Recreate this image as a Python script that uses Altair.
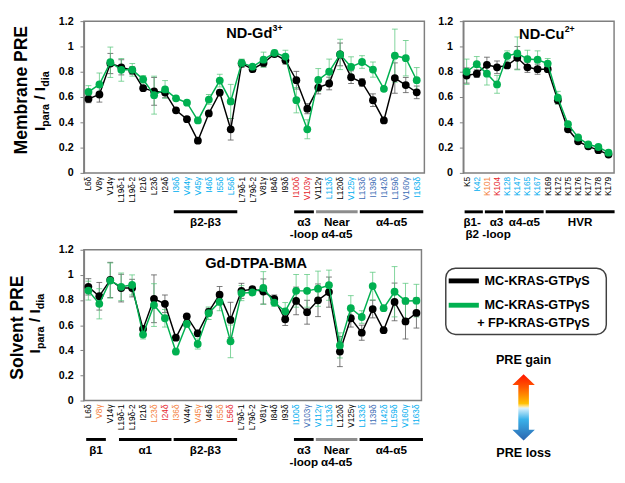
import altair as alt
import pandas as pd

FONT = "Liberation Sans"
K, LB, DB, RD, OR = "#000000", "#00AEEF", "#3D6DB5", "#E5242A", "#F4803A"
GRAYBAR = "#8C8C8C"
GREEN = "#00B050"

# ---------------- ND-Gd3+ (membrane PRE, methyl) ----------------
gd_labels = ["L6δ", "V8γ", "V14γ", "L19δ-1", "L19δ-2", "I21δ", "L23δ", "I24δ", "I36δ", "V44γ",
             "V45γ", "I46δ", "I55δ", "L56δ", "L79δ-1", "L79δ-2", "V81γ", "I84δ", "I93δ", "I100δ",
             "V103γ", "V112γ", "L113δ", "L120δ", "V125γ", "L133δ", "I139δ", "I142δ", "L159δ", "V160γ", "I163δ"]
gd_colors = [K] * 8 + [LB] * 6 + [K] * 5 + [RD, RD, K, LB, K, LB] + [DB] * 5 + [LB]
gd_black = [0.585, 0.62, 0.865, 0.835, 0.81, 0.67, 0.645, 0.635, 0.495, 0.425,
            0.255, 0.47, 0.635, 0.345, 0.865, 0.82, 0.87, 0.94, 0.89, 0.733,
            0.508, 0.675, 0.707, 0.937, 0.757, 0.715, 0.575, 0.415, 0.75, 0.695, 0.637]
gd_black_err = [0.03, 0.06, 0.08, 0.06, 0.03, 0.015, 0.11, 0.04, 0.01, 0.01,
                0.02, 0.02, 0.02, 0.085, 0.03, 0.01, 0.03, 0.02, 0.03, 0.07,
                0.04, 0.05, 0.05, 0.09, 0.05, 0.03, 0.05, 0.01, 0.12, 0.06, 0.05]
gd_green = [0.64, 0.70, 0.875, 0.815, 0.815, 0.74, 0.615, 0.66, 0.59, 0.555,
            0.415, 0.58, 0.73, 0.565, 0.87, 0.84, 0.895, 0.95, 0.92, 0.575,
            0.345, 0.735, 0.80, 0.937, 0.838, 0.877, 0.817, 0.665, 0.927, 0.907, 0.733]
gd_green_err = [0.05, 0.09, 0.12, 0.09, 0.05, 0.03, 0.15, 0.07, 0.01, 0.01,
                0.02, 0.04, 0.05, 0.135, 0.03, 0.01, 0.06, 0.02, 0.05, 0.10,
                0.075, 0.09, 0.10, 0.12, 0.08, 0.05, 0.06, 0.01, 0.21, 0.14, 0.10]
gd_regions = [("β2-β3", 8, 13, K, 0.2), ("α3\n-loop", 19, 20, K, 0.2),
              ("Near\nα4-α5", 21, 24, GRAYBAR, 0.2), ("α4-α5", 25, 30, K, 0.2)]

# ---------------- ND-Cu2+ (membrane PRE, lysine) ----------------
cu_labels = ["K5", "K42", "K101", "K104", "K128", "K147", "K165", "K167",
             "K169", "K172", "K175", "K176", "K177", "K178", "K179"]
cu_colors = [K, LB, OR, RD, LB, LB, LB, LB] + [K] * 7
cu_black = [0.77, 0.785, 0.855, 0.835, 0.85, 0.91, 0.835, 0.82, 0.82, 0.575, 0.345, 0.25, 0.21, 0.18, 0.145]
cu_black_err = [0.06, 0.03, 0.06, 0.05, 0.02, 0.09, 0.04, 0.04, 0.02, 0.03, 0.01, 0.01, 0.01, 0.01, 0.01]
cu_green = [0.80, 0.86, 0.785, 0.70, 0.925, 0.945, 0.90, 0.895, 0.865, 0.595, 0.385, 0.28, 0.225, 0.205, 0.16]
cu_green_err = [0.10, 0.06, 0.09, 0.07, 0.04, 0.13, 0.07, 0.07, 0.04, 0.05, 0.015, 0.01, 0.01, 0.01, 0.01]
cu_regions = [("β1-\nβ2", 0, 1, K, 0.05), ("α3\n-loop", 2, 3, K, 0.45),
              ("α4-α5", 4, 7, K, 0.2), ("HVR", 8, 14, K, 0.2)]

# ---------------- Gd-DTPA-BMA (solvent PRE) ----------------
sol_labels = gd_labels
sol_colors = [K, OR, K, K, K, K, OR, RD, OR, K, OR, K, OR, RD, K, K, K, K, K,
              LB, DB, LB, LB, K, K, LB, DB, LB, LB, LB, LB]
sol_black = [0.905, 0.83, 0.96, 0.895, 0.895, 0.57, 0.81, 0.77, 0.50, 0.67,
             0.535, 0.705, 0.843, 0.642, 0.873, 0.886, 0.868, 0.81, 0.647, 0.793,
             0.703, 0.798, 0.863, 0.39, 0.655, 0.54, 0.728, 0.56, 0.785, 0.63, 0.697]
sol_black_err = [0.065, 0.11, 0.14, 0.11, 0.07, 0.02, 0.19, 0.07, 0.015, 0.015,
                 0.025, 0.03, 0.065, 0.14, 0.06, 0.02, 0.10, 0.03, 0.05, 0.11,
                 0.095, 0.13, 0.12, 0.12, 0.07, 0.06, 0.07, 0.01, 0.15, 0.14, 0.12]
sol_green = [0.875, 0.77, 0.955, 0.905, 0.92, 0.525, 0.76, 0.655, 0.39, 0.61,
             0.45, 0.695, 0.785, 0.471, 0.855, 0.86, 0.896, 0.78, 0.71, 0.873,
             0.873, 0.89, 0.918, 0.439, 0.735, 0.665, 0.911, 0.735, 0.866, 0.793, 0.795]
sol_green_err = [0.075, 0.12, 0.14, 0.11, 0.08, 0.035, 0.17, 0.07, 0.025, 0.025,
                 0.04, 0.05, 0.07, 0.13, 0.06, 0.02, 0.13, 0.03, 0.07, 0.13,
                 0.13, 0.14, 0.12, 0.10, 0.10, 0.05, 0.11, 0.01, 0.20, 0.14, 0.13]
sol_regions = [("β1", 0, 1, K, 0.2), ("α1", 3, 7, K, 0.2), ("β2-β3", 8, 13, K, 0.2),
               ("α3\n-loop", 19, 20, K, 0.2), ("Near\nα4-α5", 21, 24, GRAYBAR, 0.2),
               ("α4-α5", 25, 30, K, 0.2)]

legend_names = ["MC-KRAS-GTPγS", "MC-KRAS-GTPγS", "+ FP-KRAS-GTPγS"]
YVALS = [0, 0.2, 0.4, 0.6, 0.8, 1.0, 1.2]

ONE = pd.DataFrame({"a": [0]})


def txt(t, x, y, size, align="center", baseline="middle", angle=0, weight="bold", color="black"):
    kw = dict(text=t, font=FONT, fontSize=size, fontWeight=weight, align=align,
              baseline=baseline, color=color)
    if angle:
        kw["angle"] = angle
    return alt.Chart(ONE).mark_text(**kw).encode(x=alt.value(x), y=alt.value(y))


def ytitle(main, xm, ym, xi, ys):
    sub = xi + 4
    y_para = ys - 4.45
    y_slash = y_para - 23.2 - 4.45
    y_dia = y_slash - 13.35
    return [
        txt(main, xm, ym, 18, align="center", baseline="alphabetic", angle=270),
        txt("I", xi, ys, 16, align="left", baseline="alphabetic", angle=270),
        txt("para", sub, y_para, 11, align="left", baseline="alphabetic", angle=270),
        txt("/ I", xi, y_slash, 16, align="left", baseline="alphabetic", angle=270),
        txt("dia", sub, y_dia, 11, align="left", baseline="alphabetic", angle=270),
    ]


def panel(labels, colors, black, berr, green, gerr, regions, W, H, dom, extra):
    n = len(labels)
    idx = list(range(n))
    yscale = alt.Scale(domain=[0, 1.2], nice=False, zero=True)
    yaxis = alt.Axis(values=YVALS, format="~g", labelFont=FONT, labelFontSize=11,
                     labelFontWeight="bold", labelColor="black", tickSize=4,
                     tickColor="#7F7F7F", domainColor="#7F7F7F", domainWidth=1.5,
                     grid=False, labelPadding=7, title=None)
    xscale = alt.Scale(domain=dom, nice=False, zero=False)

    def X(f):
        return alt.X(f, type="quantitative", scale=xscale, axis=None)

    def Y(f):
        return alt.Y(f, type="quantitative", scale=yscale, axis=yaxis)

    def sdf(vals, errs):
        return pd.DataFrame({"idx": idx, "v": vals,
                             "lo": [v - e for v, e in zip(vals, errs)],
                             "hi": [v + e for v, e in zip(vals, errs)]})

    bdf, gdf = sdf(black, berr), sdf(green, gerr)
    layers = []
    for df, ec, eo in [(bdf, "#555555", 0.8), (gdf, "#55C67A", 0.75)]:
        base = alt.Chart(df)
        layers.append(base.mark_rule(color=ec, strokeWidth=1, opacity=eo)
                      .encode(x=X("idx"), y=Y("lo"), y2="hi:Q"))
        layers.append(base.transform_fold(["lo", "hi"], as_=["k", "cap"])
                      .mark_tick(orient="horizontal", size=6, thickness=1, color=ec, opacity=eo)
                      .encode(x=X("idx"), y=Y("cap")))
    for df, c in [(bdf, "black"), (gdf, GREEN)]:
        base = alt.Chart(df)
        layers.append(base.mark_line(color=c, strokeWidth=1.5).encode(x=X("idx"), y=Y("v")))
        layers.append(base.mark_circle(color=c, size=64, opacity=1).encode(x=X("idx"), y=Y("v")))

    ldf = pd.DataFrame({"idx": idx, "label": labels, "color": colors})
    layers.append(alt.Chart(ldf).mark_text(angle=270, align="right", baseline="middle",
                                           font=FONT, fontSize=8.5)
                  .encode(x=X("idx"), y=alt.value(H + 4), text="label:N",
                          color=alt.Color("color:N", scale=None)))

    rdf = pd.DataFrame({"name": [r[0] for r in regions],
                        "x0": [r[1] - 0.2 for r in regions],
                        "x1": [r[2] + 0.6 for r in regions],
                        "xm": [(r[1] + r[2]) / 2 + r[4] for r in regions],
                        "color": [r[3] for r in regions]})
    layers.append(alt.Chart(rdf).mark_rule(strokeWidth=3)
                  .encode(x=X("x0"), x2="x1:Q", y=alt.value(H + 40),
                          color=alt.Color("color:N", scale=None)))
    layers.append(alt.Chart(rdf).mark_text(font=FONT, fontSize=12, fontWeight="bold",
                                           baseline="top", lineBreak="\n", lineHeight=12)
                  .encode(x=X("xm"), y=alt.value(H + 46), text="name:N"))
    layers.extend(extra)
    return alt.layer(*layers).properties(width=W, height=H)


# top-left
W1, H1 = 350, 156
gd_extra = [txt("ND-Gd", 193.7, 12, 15, align="right"), txt("3+", 194, 7, 9, align="left")]
gd_extra += ytitle("Membrane PRE", -58.3, 71, -40.3, 113)
gd_chart = panel(gd_labels, gd_colors, gd_black, gd_black_err, gd_green, gd_green_err,
                 gd_regions, W1, H1, [-0.42, 30.7], gd_extra)

# top-right
W2, H2 = 155, 156
cu_extra = [txt("ND-Cu", 104, 13, 15, align="right"), txt("2+", 104.3, 8, 9, align="left")]
cu_chart = panel(cu_labels, cu_colors, cu_black, cu_black_err, cu_green, cu_green_err,
                 cu_regions, W2, H2, [-0.33, 14.55], cu_extra)

# bottom
W3, H3 = 347, 155
sol_extra = [txt("Gd-DTPA-BMA", 177, 14, 15)]
sol_extra += ytitle("Solvent PRE", -62.7, 80, -44.7, 106.5)
sol_chart = panel(sol_labels, sol_colors, sol_black, sol_black_err, sol_green, sol_green_err,
                  sol_regions, W3, H3, [-0.41, 30.46], sol_extra)

# legend + arrow panel
arrow_path = ("M0,-1 L0.34,-0.68 L0.16,-0.68 L0.16,0.68 L0.34,0.68 L0,1 "
              "L-0.34,0.68 L-0.16,0.68 L-0.16,-0.68 L-0.34,-0.68 Z")
grad = alt.LinearGradient(
    gradient="linear", x1=0, y1=0, x2=0, y2=1,
    stops=[alt.GradientStop(color="#FF1500", offset=0),
           alt.GradientStop(color="#FF5A00", offset=0.2),
           alt.GradientStop(color="#FFC000", offset=0.44),
           alt.GradientStop(color="#FFE8A0", offset=0.49),
           alt.GradientStop(color="#DDF2FC", offset=0.51),
           alt.GradientStop(color="#3BB2EA", offset=0.68),
           alt.GradientStop(color="#2B64AE", offset=1)])
leg_layers = [
    alt.Chart(ONE).mark_rect(cornerRadius=10, fill="white", stroke="#404040", strokeWidth=1.5)
    .encode(x=alt.value(10), x2=alt.value(175), y=alt.value(19), y2=alt.value(87)),
    alt.Chart(ONE).mark_rule(color="black", strokeWidth=5)
    .encode(x=alt.value(13), x2=alt.value(44), y=alt.value(32)),
    alt.Chart(ONE).mark_rule(color=GREEN, strokeWidth=5)
    .encode(x=alt.value(13), x2=alt.value(44), y=alt.value(57)),
    txt(legend_names[0], 158, 32, 13, align="right"),
    txt(legend_names[1], 158, 57, 13, align="right"),
    txt(legend_names[2], 158, 75, 13, align="right"),
    txt("PRE gain", 90, 113, 13),
    alt.Chart(ONE).mark_point(shape=arrow_path, size=4624, filled=True, fill=grad,
                              opacity=1, strokeWidth=0)
    .encode(x=alt.value(90), y=alt.value(162)),
    txt("PRE loss", 90, 209, 13),
]
legend_chart = alt.layer(*leg_layers).properties(
    width=180, height=220, view=alt.ViewBackground(stroke="transparent"))

top = alt.hconcat(gd_chart, cu_chart, spacing=10)
bottom = alt.hconcat(sol_chart, legend_chart, spacing=10)
chart = alt.vconcat(top, bottom, spacing=2).properties(padding=0).configure_view(
    stroke="#7F7F7F", strokeWidth=1.5)

chart.save("out.html", embed_options={"renderer": "svg", "actions": False})
